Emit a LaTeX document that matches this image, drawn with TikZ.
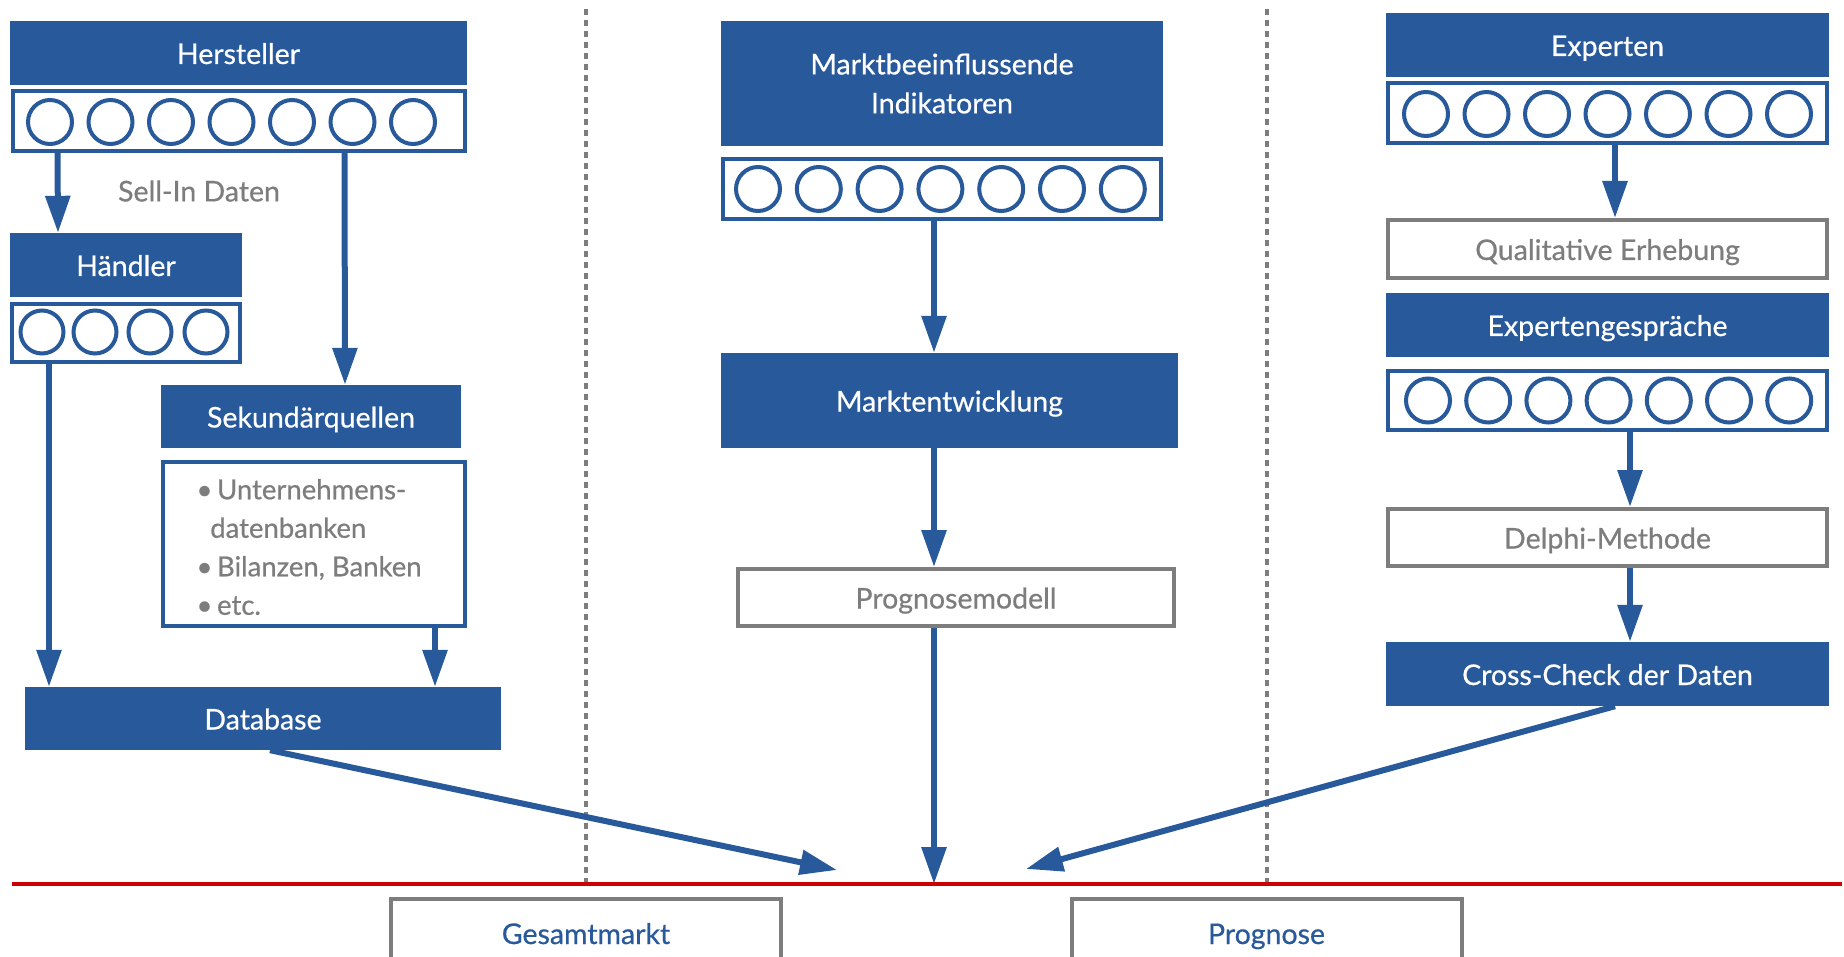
\documentclass[tikz,border=0pt]{standalone}
\usepackage{fontspec}
\setmainfont{Lato}[FakeBold=0.6]
\usetikzlibrary{arrows.meta, positioning}
\definecolor{dblue}{RGB}{39,89,155}
\definecolor{dgrey}{RGB}{125,125,125}
\definecolor{dred}{RGB}{204,0,0}
\tikzstyle{header} = [rectangle, fill=dblue, text=white, minimum height=64pt, inner sep=0pt, text height=22pt, text depth=0pt, text centered]
\tikzstyle{circlerow} = [rectangle, draw=dblue, line width=4pt, fill=white, minimum height=60pt, inner sep=0pt]
\tikzstyle{greybox} = [rectangle, draw=dgrey, line width=4pt, text=dgrey, minimum height=58pt, inner sep=0pt, text height=22pt, text depth=0pt, text centered]
\tikzstyle{result} = [rectangle, draw=dgrey, line width=4pt, text=dblue, minimum width=390pt, minimum height=68pt, text height=22pt, text depth=0pt, text centered]
\tikzstyle{ring} = [draw=dblue, line width=4pt]
\tikzstyle{arrow} = [line width=6pt, dblue, -{Triangle[width=24pt,length=37pt]}]
\tikzstyle{divider} = [dgrey, line width=4pt, dash pattern=on 6pt off 5pt]

\begin{document}
\begin{tikzpicture}[x=1pt, y=-1pt, node distance=68pt, font=\fontsize{28.5}{39}\selectfont]
\useasboundingbox (0,0) rectangle (1844,957);

% trennlinien
\draw [divider] (586,9) -- (586,882);
\draw [divider] (1267,9) -- (1267,882);

% linke spalte
\node (hersteller) [header, minimum width=457pt] at (238.5,53) {Hersteller};
\node (hersteller row) [circlerow, minimum width=452pt, below of=hersteller] {};
\node (sell in) [text=dgrey] at (199,191) {Sell-In Daten};
\node (haendler) [header, minimum width=232pt] at (126,265) {Händler};
\node (haendler row) [circlerow, minimum width=228pt, minimum height=58pt, below of=haendler] {};
\node (sekundaer) [header, minimum width=300pt, minimum height=63pt] at (311,416.5) {Sekundärquellen};
\node (sek list) [rectangle, draw=dblue, line width=4pt, minimum width=302pt, minimum height=164pt] at (314,544) {};
\node (sek items) [text=dgrey, align=left, anchor=west, font=\fontsize{27.5}{38.5}\selectfont] at (193,547)
  {\textbullet\,Unternehmens-\\\hspace{0.5em}datenbanken\\\textbullet\,Bilanzen, Banken\\\textbullet\,etc.};
\node (database) [header, minimum width=476pt, minimum height=63pt] at (263,718.5) {Database};

\foreach \i in {0,...,6}
  \draw [ring] (50+60.5*\i,122) circle (22pt);
\foreach \cx in {42,95,150,206}
  \draw [ring] (\cx,332) circle (21.5pt);

% mittlere spalte
\node (markt ind) [header, minimum width=442pt, minimum height=125pt, align=center, text height=, text depth=] at (942,83.5) {Marktbeeinflussende\\Indikatoren};
\node (markt row) [circlerow, minimum width=438pt, below of=markt ind, yshift=-37.5pt] {};
\node (marktentw) [header, minimum width=457pt, minimum height=95pt] at (949.5,400.5) {Marktentwicklung};
\node (prognosemodell) [greybox, minimum width=436pt, minimum height=57pt] at (956,597.5) {Prognosemodell};

\foreach \i in {0,...,6}
  \draw [ring] (758+60.8*\i,189) circle (22pt);

% rechte spalte
\node (experten) [header, minimum width=443pt] at (1607.5,45) {Experten};
\node (experten row) [circlerow, minimum width=439pt, below of=experten] {};
\node (qualitativ) [greybox, minimum width=439pt] at (1607.5,249) {Qualitative Erhebung};
\node (gespraeche) [header, minimum width=443pt] at (1607.5,325) {Expertengespräche};
\node (gespraeche row) [circlerow, minimum width=439pt, minimum height=59pt, below of=gespraeche, yshift=-7.5pt] {};
\node (delphi) [greybox, minimum width=439pt, minimum height=57pt] at (1607.5,537.5) {Delphi-Methode};
\node (crosscheck) [header, minimum width=443pt] at (1607.5,674) {Cross-Check der Daten};

\foreach \i in {0,...,6}
  \draw [ring] (1426+60.5*\i,114) circle (22pt);
\foreach \i in {0,...,6}
  \draw [ring] (1428+60.2*\i,400.5) circle (22pt);

% ergebnis
\coordinate (db tip) at (837,870);
\coordinate (mid tip) at (934,884);
\coordinate (cc tip) at (1026,869);
\node (gesamtmarkt) [result] at (586,933) {Gesamtmarkt};
\node (prognose) [result] at (1266.5,933) {Prognose};

\draw [arrow] ([xshift=-181pt]hersteller row.south) -- ([xshift=-68pt]haendler.north);
\draw [arrow] ([xshift=106pt]hersteller row.south) -- ([xshift=34pt]sekundaer.north);
\draw [arrow] ([xshift=-77pt]haendler row.south) -- ([xshift=-214pt]database.north);
\draw [arrow] ([xshift=121pt]sek list.south) -- ([xshift=172pt]database.north);
\draw [arrow] ([xshift=7pt]database.south) -- (db tip);

\draw [arrow] ([xshift=-8pt]markt row.south) -- ([xshift=-15.5pt]marktentw.north);
\draw [arrow] ([xshift=-15.5pt]marktentw.south) -- ([xshift=-22pt]prognosemodell.north);
\draw [arrow] ([xshift=-22pt]prognosemodell.south) -- (mid tip);

\draw [arrow] ([xshift=7.5pt]experten row.south) -- ([xshift=7.5pt]qualitativ.north);
\draw [arrow] ([xshift=22.5pt]gespraeche row.south) -- ([xshift=22.5pt]delphi.north);
\draw [arrow] ([xshift=22.5pt]delphi.south) -- ([xshift=22.5pt]crosscheck.north);
\draw [arrow] ([xshift=7.5pt]crosscheck.south) -- (cc tip);

\draw [dred, line width=4pt] (12,884) -- (1842,884);

\end{tikzpicture}
\end{document}
